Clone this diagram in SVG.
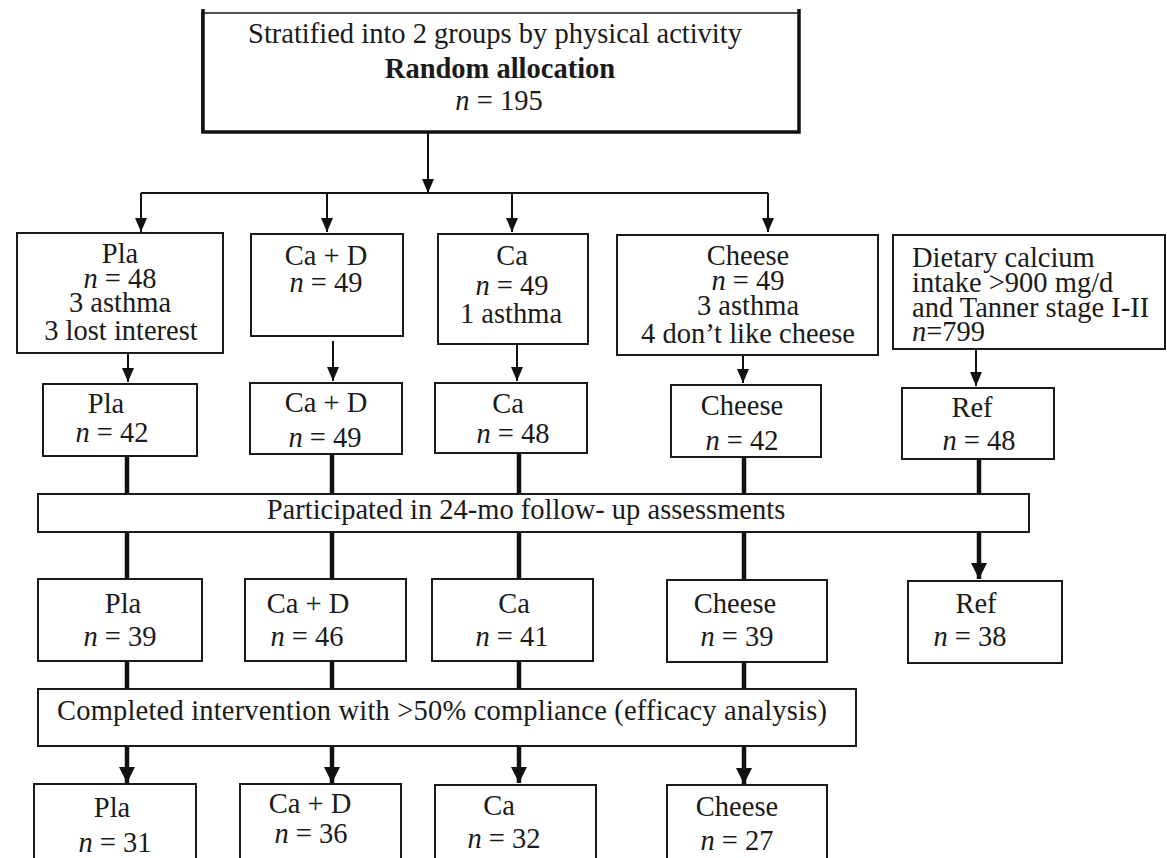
<svg xmlns="http://www.w3.org/2000/svg" width="1167" height="858" viewBox="0 0 1167 858">
<style>
.bx{fill:#fff;stroke:#1a1a1a;stroke-width:2}
.t{font-family:"Liberation Serif","Times New Roman",serif;font-size:28.5px;fill:#1a1a1a;text-anchor:middle}
.tl{text-anchor:start}
.b{font-weight:bold}
.i{font-style:italic}
.c{fill:none;stroke:#111;stroke-width:2}
.k{fill:none;stroke:#111;stroke-width:4.5}
</style>
<defs>
<marker id="ah" markerUnits="userSpaceOnUse" markerWidth="14" markerHeight="12" refX="14" refY="6" orient="auto"><path d="M0,0 L14,6 L0,12 z" fill="#111"/></marker>
<marker id="ahb" markerUnits="userSpaceOnUse" markerWidth="16" markerHeight="16" refX="16" refY="8" orient="auto"><path d="M0,0 L16,8 L0,16 z" fill="#111"/></marker>
</defs>
<rect width="1167" height="858" fill="#fff"/>

<g id="connectors">
<path class="c" d="M428,132 V193" marker-end="url(#ah)"/>
<path class="c" d="M141,193 H768"/>
<path class="c" d="M141,193 V232" marker-end="url(#ah)"/>
<path class="c" d="M327,193 V232" marker-end="url(#ah)"/>
<path class="c" d="M512,193 V232" marker-end="url(#ah)"/>
<path class="c" d="M768,193 V232" marker-end="url(#ah)"/>
<path class="c" d="M128,354 V382" marker-end="url(#ah)"/>
<path class="c" d="M333,341 V381" marker-end="url(#ah)"/>
<path class="c" d="M517,344 V381" marker-end="url(#ah)"/>
<path class="c" d="M743,355 V383" marker-end="url(#ah)"/>
<path class="c" d="M976,343 V386" marker-end="url(#ah)"/>
<path class="k" d="M127,456 V494 M127,532 V579"/>
<path class="k" d="M332,455 V494 M332,532 V579"/>
<path class="k" d="M519,454 V494 M519,532 V585"/>
<path class="k" d="M744,458 V494 M744,532 V580"/>
<path class="k" d="M979,460 V494"/>
<path class="k" d="M979,532 V579" marker-end="url(#ahb)"/>
<path class="k" d="M127,661 V689 M332,661 V689 M519,661 V689 M744,662 V689"/>
<path class="k" d="M127,746 V783" marker-end="url(#ahb)"/>
<path class="k" d="M332,746 V783" marker-end="url(#ahb)"/>
<path class="k" d="M519,746 V783" marker-end="url(#ahb)"/>
<path class="k" d="M744,746 V784" marker-end="url(#ahb)"/>
</g>

<g id="random">
<rect x="202" y="13" width="597" height="119" fill="#fff" stroke="#1a1a1a" stroke-width="1.5"/>
<path fill="none" stroke="#111" stroke-width="3.5" d="M203,9 V132 H799 V9"/>
<text class="t" x="495" y="43">Stratified into 2 groups by physical activity</text>
<text class="t b" x="500" y="78">Random allocation</text>
<text class="t" x="499" y="110"><tspan class="i">n</tspan> = 195</text>
</g>

<g id="pla1">
<rect class="bx" x="17" y="233" width="206" height="120"/>
<text class="t" x="120" y="263">Pla</text>
<text class="t" x="120" y="288"><tspan class="i">n</tspan> = 48</text>
<text class="t" x="120" y="312">3 asthma</text>
<text class="t" x="121" y="340">3 lost interest</text>
</g>
<g id="cad1">
<rect class="bx" x="251" y="234" width="152" height="102"/>
<text class="t" x="326" y="265">Ca + D</text>
<text class="t" x="326" y="292"><tspan class="i">n</tspan> = 49</text>
</g>
<g id="ca1">
<rect class="bx" x="438" y="234" width="150" height="110"/>
<text class="t" x="512" y="265">Ca</text>
<text class="t" x="512" y="295"><tspan class="i">n</tspan> = 49</text>
<text class="t" x="511" y="323">1 asthma</text>
</g>
<g id="cheese1">
<rect class="bx" x="617" y="235" width="261" height="120"/>
<text class="t" x="748" y="265">Cheese</text>
<text class="t" x="748" y="290"><tspan class="i">n</tspan> = 49</text>
<text class="t" x="748" y="315">3 asthma</text>
<text class="t" x="748" y="343">4 don’t like cheese</text>
</g>
<g id="dietary">
<rect class="bx" x="893" y="235" width="272" height="114"/>
<text class="t tl" x="912" y="267">Dietary calcium</text>
<text class="t tl" x="912" y="292">intake &gt;900 mg/d</text>
<text class="t tl" x="912" y="317">and Tanner stage I-II</text>
<text class="t tl" x="912" y="341"><tspan class="i">n</tspan>=799</text>
</g>

<g id="pla2">
<rect class="bx" x="43" y="384" width="154" height="72"/>
<text class="t" x="106" y="413">Pla</text>
<text class="t" x="112" y="442"><tspan class="i">n</tspan> = 42</text>
</g>
<g id="cad2">
<rect class="bx" x="250" y="383" width="152" height="71"/>
<text class="t" x="326" y="412">Ca + D</text>
<text class="t" x="325" y="447"><tspan class="i">n</tspan> = 49</text>
</g>
<g id="ca2">
<rect class="bx" x="435" y="383" width="152" height="70"/>
<text class="t" x="508" y="413">Ca</text>
<text class="t" x="513" y="443"><tspan class="i">n</tspan> = 48</text>
</g>
<g id="cheese2">
<rect class="bx" x="671" y="385" width="150" height="72"/>
<text class="t" x="742" y="415">Cheese</text>
<text class="t" x="742" y="450"><tspan class="i">n</tspan> = 42</text>
</g>
<g id="ref2">
<rect class="bx" x="902" y="388" width="152" height="71"/>
<text class="t" x="972" y="417">Ref</text>
<text class="t" x="979" y="450"><tspan class="i">n</tspan> = 48</text>
</g>

<g id="participated">
<rect class="bx" x="38" y="494" width="991" height="38"/>
<text class="t" x="526" y="519">Participated in 24-mo follow- up assessments</text>
</g>

<g id="pla3">
<rect class="bx" x="38" y="579" width="164" height="82"/>
<text class="t" x="123" y="613">Pla</text>
<text class="t" x="120" y="646"><tspan class="i">n</tspan> = 39</text>
</g>
<g id="cad3">
<rect class="bx" x="245" y="579" width="161" height="82"/>
<text class="t" x="308" y="613">Ca + D</text>
<text class="t" x="307" y="646"><tspan class="i">n</tspan> = 46</text>
</g>
<g id="ca3">
<rect class="bx" x="432" y="579" width="161" height="82"/>
<text class="t" x="514" y="613">Ca</text>
<text class="t" x="512" y="646"><tspan class="i">n</tspan> = 41</text>
</g>
<g id="cheese3">
<rect class="bx" x="667" y="580" width="160" height="82"/>
<text class="t" x="735" y="613">Cheese</text>
<text class="t" x="737" y="646"><tspan class="i">n</tspan> = 39</text>
</g>
<g id="ref3">
<rect class="bx" x="908" y="581" width="154" height="82"/>
<text class="t" x="976" y="613">Ref</text>
<text class="t" x="970" y="646"><tspan class="i">n</tspan> = 38</text>
</g>

<g id="completed">
<rect class="bx" x="38" y="689" width="818" height="57"/>
<text class="t" x="442" y="720" textLength="770" lengthAdjust="spacing">Completed intervention with &gt;50% compliance (efficacy analysis)</text>
</g>

<g id="pla4">
<rect class="bx" x="34" y="784" width="162" height="90"/>
<text class="t" x="112" y="817">Pla</text>
<text class="t" x="115" y="852"><tspan class="i">n</tspan> = 31</text>
</g>
<g id="cad4">
<rect class="bx" x="240" y="784" width="161" height="90"/>
<text class="t" x="310" y="813">Ca + D</text>
<text class="t" x="311" y="843"><tspan class="i">n</tspan> = 36</text>
</g>
<g id="ca4">
<rect class="bx" x="435" y="785" width="161" height="90"/>
<text class="t" x="499" y="815">Ca</text>
<text class="t" x="504" y="848"><tspan class="i">n</tspan> = 32</text>
</g>
<g id="cheese4">
<rect class="bx" x="667" y="785" width="160" height="90"/>
<text class="t" x="737" y="816">Cheese</text>
<text class="t" x="737" y="850"><tspan class="i">n</tspan> = 27</text>
</g>
</svg>
